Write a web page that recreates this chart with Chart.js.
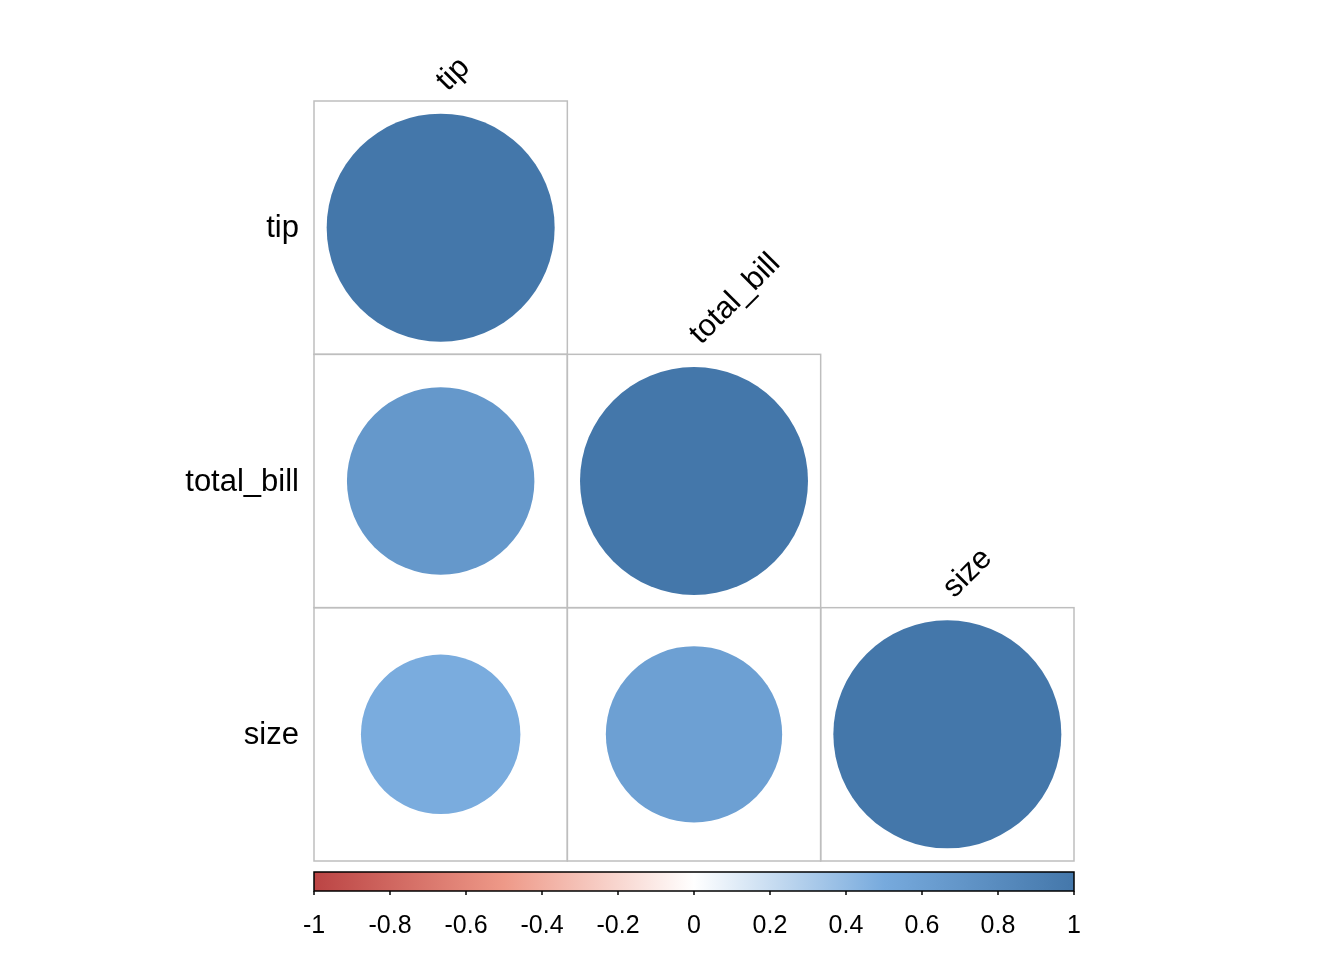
<!DOCTYPE html>
<html>
<head>
<meta charset="utf-8">
<script src="https://cdn.jsdelivr.net/npm/chart.js@4.4.0/dist/chart.umd.min.js"></script>
<style>
  html, body { margin: 0; padding: 0; background: #fff; }
  canvas { display: block; }
</style>
</head>
<body>
<canvas id="corrChart" width="1344" height="960"></canvas>
<script>
// DATA
const variables = ['tip', 'total_bill', 'size'];
// correlations by column (lower triangle only)
const corrTip = [1, 0.676, 0.489];
const corrTotalBill = [null, 1, 0.598];
const corrSize = [null, null, 1];
const colorbarTicks = [-1, -0.8, -0.6, -0.4, -0.2, 0, 0.2, 0.4, 0.6, 0.8, 1];

// palette: -1 .. 1
const palStops = [-1, -0.5, 0, 0.5, 1];
const palColors = ['#BB4444', '#EE9988', '#FFFFFF', '#77AADD', '#4477AA'];

const FONT = '"Liberation Sans", Arial, sans-serif';
const PAD = { left: 314, right: 270, top: 101, bottom: 99 };

function hexToRgb(h) {
    return [parseInt(h.substr(1, 2), 16), parseInt(h.substr(3, 2), 16), parseInt(h.substr(5, 2), 16)];
}

function colorFor(v) {
    for (let i = 0; i < palStops.length - 1; i++) {
        if (v <= palStops[i + 1]) {
            const t = (v - palStops[i]) / (palStops[i + 1] - palStops[i]);
            const a = hexToRgb(palColors[i]), b = hexToRgb(palColors[i + 1]);
            const c = a.map((x, k) => Math.round(x + (b[k] - x) * t));
            return 'rgb(' + c.join(',') + ')';
        }
    }
    return palColors[palColors.length - 1];
}

// build points from the column arrays
const columns = [corrTip, corrTotalBill, corrSize];
const points = [];
columns.forEach(function (col, ci) {
    col.forEach(function (v, ri) {
        if (v !== null) points.push({ x: ci, y: ri, v: v });
    });
});

// width of one cell (scales are not ready on the first pass, so use chart width)
function cellSize(chart) {
    return (chart.width - PAD.left - PAD.right) / variables.length;
}

// grid, labels and colour legend
const corrDecor = {
    id: 'corrDecor',
    beforeDatasetsDraw(chart) {
        const ctx = chart.ctx, sx = chart.scales.x, sy = chart.scales.y;
        ctx.save();
        ctx.strokeStyle = '#BEBEBE';
        ctx.lineWidth = 1.5;
        for (let r = 0; r < variables.length; r++) {
            for (let c = 0; c <= r; c++) {
                const x0 = sx.getPixelForValue(c - 0.5), x1 = sx.getPixelForValue(c + 0.5);
                const y0 = sy.getPixelForValue(r - 0.5), y1 = sy.getPixelForValue(r + 0.5);
                ctx.strokeRect(x0, y0, x1 - x0, y1 - y0);
            }
        }
        ctx.restore();
    },
    afterDatasetsDraw(chart) {
        const ctx = chart.ctx, sx = chart.scales.x, sy = chart.scales.y;
        ctx.save();
        ctx.fillStyle = '#000';
        ctx.font = '31px ' + FONT;

        // row labels
        ctx.textAlign = 'right';
        ctx.textBaseline = 'middle';
        variables.forEach(function (name, r) {
            ctx.fillText(name, sx.getPixelForValue(-0.5) - 15, sy.getPixelForValue(r) + 1);
        });

        // diagonal (column) labels, rotated
        ctx.textAlign = 'left';
        ctx.textBaseline = 'alphabetic';
        variables.forEach(function (name, c) {
            const x = sx.getPixelForValue(c) + 7;
            const y = sy.getPixelForValue(c - 0.5) - 9;
            ctx.save();
            ctx.translate(x, y);
            ctx.rotate(-Math.PI / 4);
            ctx.fillText(name, 0, 0);
            ctx.restore();
        });

        // colour bar
        const left = sx.getPixelForValue(-0.5), right = sx.getPixelForValue(2.5);
        const top = sy.getPixelForValue(2.5) + 11, bottom = top + 19;
        const grad = ctx.createLinearGradient(left, 0, right, 0);
        palStops.forEach(function (s, i) {
            grad.addColorStop((s + 1) / 2, palColors[i]);
        });
        ctx.fillStyle = grad;
        ctx.fillRect(left, top, right - left, bottom - top);
        ctx.strokeStyle = '#000';
        ctx.lineWidth = 1.5;
        ctx.strokeRect(left, top, right - left, bottom - top);

        ctx.font = '25px ' + FONT;
        ctx.fillStyle = '#000';
        ctx.textAlign = 'center';
        ctx.textBaseline = 'middle';
        colorbarTicks.forEach(function (t) {
            const x = left + (t + 1) / 2 * (right - left);
            ctx.beginPath();
            ctx.moveTo(x, bottom);
            ctx.lineTo(x, bottom + 4);
            ctx.stroke();
            ctx.fillText(String(t), x, bottom + 35);
        });
        ctx.restore();
    }
};

const corrChart = new Chart(document.getElementById('corrChart'), {
    type: 'bubble',
    data: {
        datasets: [{
            data: points,
            backgroundColor: function (ctx) {
                return ctx.raw ? colorFor(ctx.raw.v) : '#4477AA';
            },
            borderWidth: 0,
            radius: function (ctx) {
                if (!ctx.raw) return 0;
                return 0.45 * cellSize(ctx.chart) * Math.sqrt(Math.abs(ctx.raw.v));
            },
            hoverRadius: 0
        }]
    },
    options: {
        responsive: false,
        animation: false,
        events: [],
        layout: { padding: PAD },
        plugins: { legend: { display: false }, tooltip: { enabled: false } },
        scales: {
            x: { type: 'linear', min: -0.5, max: 2.5, display: false },
            y: { type: 'linear', min: -0.5, max: 2.5, reverse: true, display: false }
        }
    },
    plugins: [corrDecor]
});

// circles fit inside their cells, so no extra overflow padding is needed
corrChart.getDatasetMeta(0).controller.getMaxOverflow = function () { return false; };
corrChart.update();
</script>
</body>
</html>
